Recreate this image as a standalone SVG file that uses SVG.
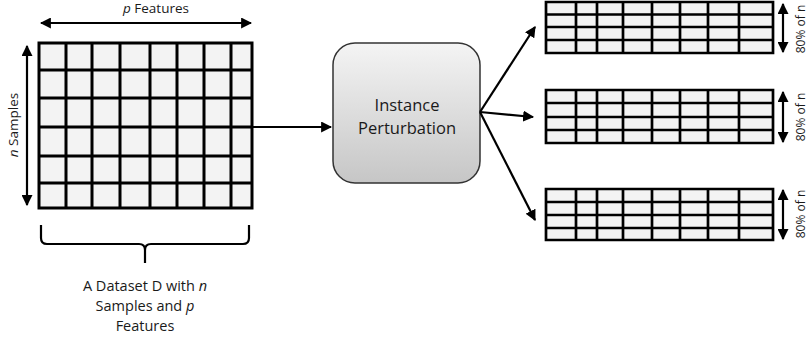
<svg xmlns="http://www.w3.org/2000/svg" width="809" height="339" viewBox="0 0 809 339">
<defs>
<linearGradient id="bg" x1="0" y1="0" x2="0" y2="1">
<stop offset="0" stop-color="#f4f4f4"/>
<stop offset="1" stop-color="#c6c6c6"/>
</linearGradient>
<marker id="ah" viewBox="0 0 10 10" refX="9" refY="5" markerWidth="5" markerHeight="5" orient="auto-start-reverse" markerUnits="strokeWidth">
<path d="M0,0 L10,5 L0,10 z" fill="#000"/>
</marker>
<style>
.cell{fill:#f3f3f3;stroke:none}
.gl{stroke:#000;stroke-width:3;fill:none}
.gs{stroke:#000;stroke-width:2.7;fill:none}
.ar{stroke:#000;stroke-width:2.2;fill:none}
.t{font-family:"Open Sans","Liberation Sans",sans-serif;fill:#1a1a1a}
</style>
</defs>

<g id="dataset">
<rect class="cell" x="39" y="43" width="213" height="165"/>
<path class="gl" d="M39,43H252V208H39Z M66,43V208 M92,43V208 M120,43V208 M150,43V208 M177,43V208 M204,43V208 M231,43V208 M39,70H252 M39,98H252 M39,127H252 M39,156H252 M39,183H252"/>
<line class="ar" x1="41" y1="23" x2="251" y2="23" marker-start="url(#ah)" marker-end="url(#ah)"/>
<text class="t" x="156" y="13" font-size="13.5" text-anchor="middle"><tspan font-style="italic">p</tspan> Features</text>
<line class="ar" x1="27" y1="46" x2="27" y2="205" marker-start="url(#ah)" marker-end="url(#ah)"/>
<text class="t" transform="translate(18,125) rotate(-90)" font-size="13.5" text-anchor="middle"><tspan font-style="italic">n</tspan> Samples</text>
<path class="ar" d="M41,225V238Q41,244 47,244H139Q145,244 145,250V263 M145,250Q145,244 151,244H243Q249,244 249,238V225"/>
<text class="t" font-size="14.5" text-anchor="middle"><tspan x="145" y="291">A Dataset D with <tspan font-style="italic">n</tspan></tspan><tspan x="145" y="311">Samples and <tspan font-style="italic">p</tspan></tspan><tspan x="145" y="331">Features</tspan></text>
</g>

<g id="perturbation">
<rect x="333" y="43" width="147" height="140" rx="22" ry="22" fill="url(#bg)" stroke="#333" stroke-width="1.5"/>
<text class="t" font-size="16.5" text-anchor="middle"><tspan x="407" y="111">Instance</tspan><tspan x="407" y="134">Perturbation</tspan></text>
</g>

<g id="subset1">
<rect class="cell" x="546" y="2" width="227" height="51"/>
<path class="gs" d="M546,2H773V53H546Z M576,2V53 M597,2V53 M623,2V53 M652,2V53 M680,2V53 M708,2V53 M739,2V53 M546,14.5H773 M546,27H773 M546,40H773"/>
<line class="ar" x1="783" y1="4" x2="783" y2="52" marker-start="url(#ah)" marker-end="url(#ah)"/>
<text class="t" transform="translate(805,29) rotate(-90)" font-size="12" text-anchor="middle">80% of n</text>
</g>

<g id="subset2">
<rect class="cell" x="546" y="90" width="227" height="53"/>
<path class="gs" d="M546,90H773V143H546Z M576,90V143 M597,90V143 M623,90V143 M652,90V143 M680,90V143 M708,90V143 M739,90V143 M546,103H773 M546,117H773 M546,130H773"/>
<line class="ar" x1="783" y1="92" x2="783" y2="142" marker-start="url(#ah)" marker-end="url(#ah)"/>
<text class="t" transform="translate(805,117) rotate(-90)" font-size="12" text-anchor="middle">80% of n</text>
</g>

<g id="subset3">
<rect class="cell" x="546" y="189" width="227" height="51"/>
<path class="gs" d="M546,189H773V240H546Z M576,189V240 M597,189V240 M623,189V240 M652,189V240 M680,189V240 M708,189V240 M739,189V240 M546,202H773 M546,215H773 M546,228H773"/>
<line class="ar" x1="783" y1="190" x2="783" y2="239" marker-start="url(#ah)" marker-end="url(#ah)"/>
<text class="t" transform="translate(805,214) rotate(-90)" font-size="12" text-anchor="middle">80% of n</text>
</g>

<g id="connectors">
<line class="ar" x1="252" y1="127" x2="331" y2="127" marker-end="url(#ah)"/>
<line class="ar" x1="480" y1="112" x2="535" y2="27" marker-end="url(#ah)"/>
<line class="ar" x1="480" y1="112" x2="533" y2="117" marker-end="url(#ah)"/>
<line class="ar" x1="480" y1="112" x2="535" y2="220" marker-end="url(#ah)"/>
</g>
</svg>
